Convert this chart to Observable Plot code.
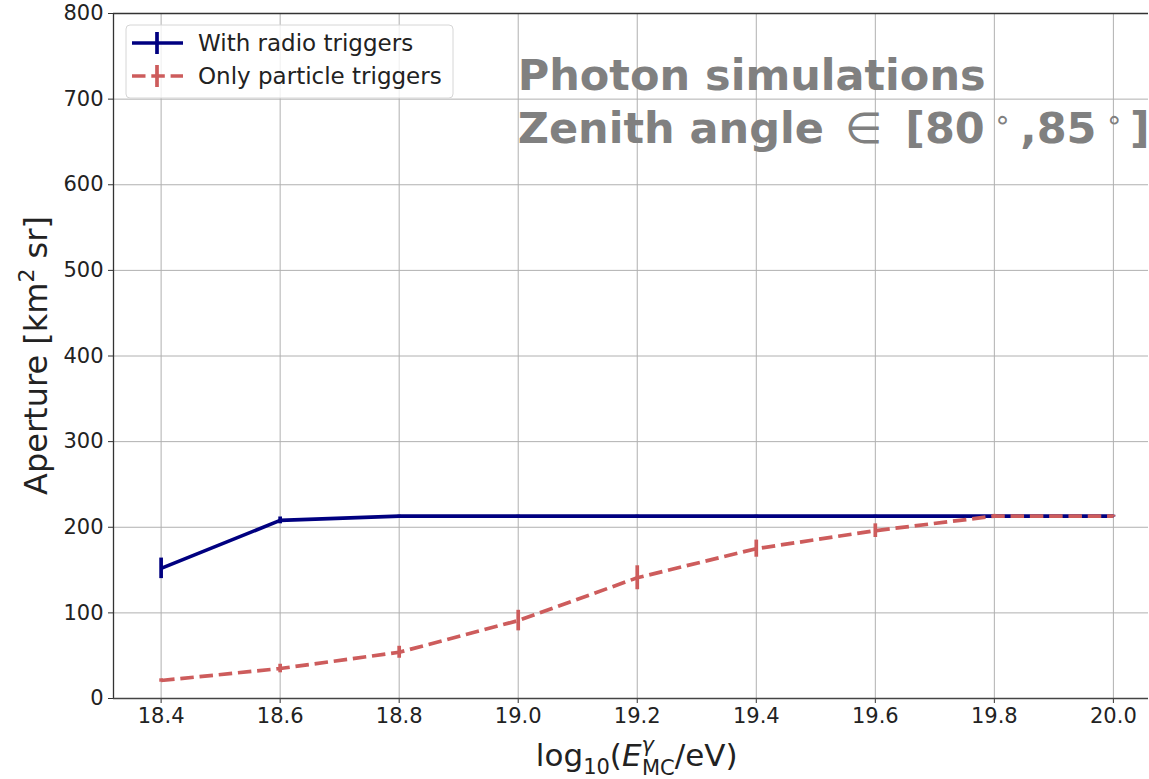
<!DOCTYPE html>
<html>
<head>
<meta charset="utf-8">
<script src="https://cdn.jsdelivr.net/npm/d3@7"></script>
<script src="https://cdn.jsdelivr.net/npm/@observablehq/plot@0.6"></script>
<style>
  html, body { margin: 0; padding: 0; background: #fff; overflow: hidden; }
  #wrap { position: relative; width: 1149px; height: 779px; overflow: hidden; }
  #wrap svg { max-width: none; }
</style>
</head>
<body>
<div id="wrap"></div>
<script>
// log10 of the simulated photon energy
const energies = [18.4, 18.6, 18.8, 19.0, 19.2, 19.4, 19.6, 19.8, 20.0];
// aperture with radio triggers [km^2 sr] and its uncertainty
const radioAperture = [152, 208, 213, 213, 213, 213, 213, 213, 213];
const radioError = [12, 4, 1, 1, 1, 1, 1, 1, 1];
// aperture with particle triggers only [km^2 sr] and its uncertainty
const particleAperture = [21, 35, 54, 91, 141, 175, 196, 213, 213];
const particleError = [2, 5, 7, 12, 14, 10, 8, 2, 1];

const xTicks = [18.4, 18.6, 18.8, 19.0, 19.2, 19.4, 19.6, 19.8, 20.0];
const yTicks = [0, 100, 200, 300, 400, 500, 600, 700, 800];

const seriesNames = ["With radio triggers", "Only particle triggers"];
const titleLines = ["Photon simulations", "Zenith angle"];

const NAVY = "#000080";
const RED = "#cd5c5c";
const FONT = "DejaVu Sans";

const radio = energies.map((e, i) => ({e, a: radioAperture[i], err: radioError[i]}));
const particle = energies.map((e, i) => ({e, a: particleAperture[i], err: particleError[i]}));

const xDomain = [18.32, 20.059];
const yDomain = [0, 800];

const chart = Plot.plot({
  width: 1149,
  height: 779,
  marginLeft: 113,
  marginRight: 1,
  marginTop: 13,
  marginBottom: 81,
  x: {domain: xDomain},
  y: {domain: yDomain},
  style: {fontFamily: FONT, background: "white", color: "#222"},
  marks: [
    Plot.gridX(xTicks, {stroke: "#b0b0b0", strokeOpacity: 1, strokeWidth: 1}),
    Plot.gridY(yTicks, {stroke: "#b0b0b0", strokeOpacity: 1, strokeWidth: 1}),
    Plot.axisX(xTicks, {tickFormat: d => d.toFixed(1), tickSize: 5, tickPadding: 5, fontSize: 21, label: null, stroke: "#333"}),
    Plot.axisY(yTicks, {tickSize: 5, tickPadding: 5, fontSize: 21, label: null, stroke: "#333"}),
    // axes spines (left, bottom, top)
    Plot.ruleX([xDomain[0]], {stroke: "#333", strokeWidth: 1.3}),
    Plot.ruleY([yDomain[0]], {stroke: "#444", strokeWidth: 1.5}),
    Plot.ruleY([yDomain[1]], {stroke: "#333", strokeWidth: 1.3}),
    // with radio triggers
    Plot.line(radio, {x: "e", y: "a", stroke: NAVY, strokeWidth: 3.7, strokeLinecap: "butt"}),
    Plot.ruleX(radio, {x: "e", y1: d => d.a - d.err, y2: d => d.a + d.err, stroke: NAVY, strokeWidth: 3.7}),
    // particle triggers only
    Plot.line(particle, {x: "e", y: "a", stroke: RED, strokeWidth: 3.7, strokeDasharray: "13.5,5.8", strokeLinecap: "butt"}),
    Plot.ruleX(particle, {x: "e", y1: d => d.a - d.err, y2: d => d.a + d.err, stroke: RED, strokeWidth: 3.7})
  ]
});

document.getElementById("wrap").appendChild(chart);

const sx = chart.scale("x");
const sy = chart.scale("y");
const svg = d3.select(chart);

// axis titles
const xl = svg.append("text")
  .attr("x", (sx.range[0] + sx.apply(20.08)) / 2)
  .attr("y", 766)
  .attr("text-anchor", "middle")
  .attr("font-family", FONT)
  .attr("font-size", 31)
  .attr("fill", "#222");
xl.append("tspan").text("log");
xl.append("tspan").attr("font-size", 21).attr("dy", 8).text("10");
xl.append("tspan").attr("dy", -8).text("(");
xl.append("tspan").attr("font-style", "italic").text("E");
xl.append("tspan").attr("font-style", "italic").attr("font-size", 21).attr("dy", -14).text("γ");
xl.append("tspan").attr("font-size", 21).attr("dx", -12).attr("dy", 23).text("MC");
xl.append("tspan").attr("dy", -9).text("/eV)");

const cy = (sy.range[0] + sy.range[1]) / 2;
const yl = svg.append("text")
  .attr("transform", `translate(47,${cy}) rotate(-90)`)
  .attr("text-anchor", "middle")
  .attr("font-family", FONT)
  .attr("font-size", 32)
  .attr("fill", "#222");
yl.append("tspan").text("Aperture [km");
yl.append("tspan").attr("font-size", 22).attr("dy", -13).text("2");
yl.append("tspan").attr("dy", 13).text(" sr]");

// annotation text
const ax = sx.apply(19.0);
const ann = svg.append("g")
  .attr("font-family", FONT)
  .attr("font-size", 43)
  .attr("text-anchor", "start")
  .attr("fill", "#808080");
ann.append("text").attr("x", ax).attr("y", 90).attr("font-weight", "bold").text(titleLines[0]);
const l2 = ann.append("text").attr("x", ax).attr("y", 143).attr("font-weight", "bold");
l2.append("tspan").text(titleLines[1] + " ");
l2.append("tspan").attr("font-weight", "normal").attr("dx", 6).text("∈");
l2.append("tspan").attr("dx", 8).text(" [80");
l2.append("tspan").attr("font-weight", "normal").attr("font-size", 28).attr("dx", 9).attr("dy", -14).text("∘");
l2.append("tspan").attr("dx", 9).attr("dy", 14).text(",85");
l2.append("tspan").attr("font-weight", "normal").attr("font-size", 28).attr("dx", 9).attr("dy", -14).text("∘");
l2.append("tspan").attr("dx", 7).attr("dy", 14).text("]");

// legend
const lg = svg.append("g").attr("font-family", FONT).attr("text-anchor", "start");
lg.append("rect")
  .attr("x", 126).attr("y", 25).attr("width", 327).attr("height", 73)
  .attr("rx", 4).attr("fill", "white").attr("fill-opacity", 0.8)
  .attr("stroke", "#d6d6d6").attr("stroke-width", 1);
const rows = [
  {name: seriesNames[0], color: NAVY, dash: null, y: 43},
  {name: seriesNames[1], color: RED, dash: "13.5,5.8", y: 76}
];
for (const r of rows) {
  lg.append("line").attr("x1", 132).attr("x2", 183).attr("y1", r.y).attr("y2", r.y)
    .attr("stroke", r.color).attr("stroke-width", 3.7).attr("stroke-dasharray", r.dash);
  lg.append("line").attr("x1", 157).attr("x2", 157).attr("y1", r.y - 11).attr("y2", r.y + 11)
    .attr("stroke", r.color).attr("stroke-width", 3.7);
  lg.append("text").attr("x", 198).attr("y", r.y + 8).attr("font-size", 23).attr("fill", "#222").text(r.name);
}
</script>
</body>
</html>
